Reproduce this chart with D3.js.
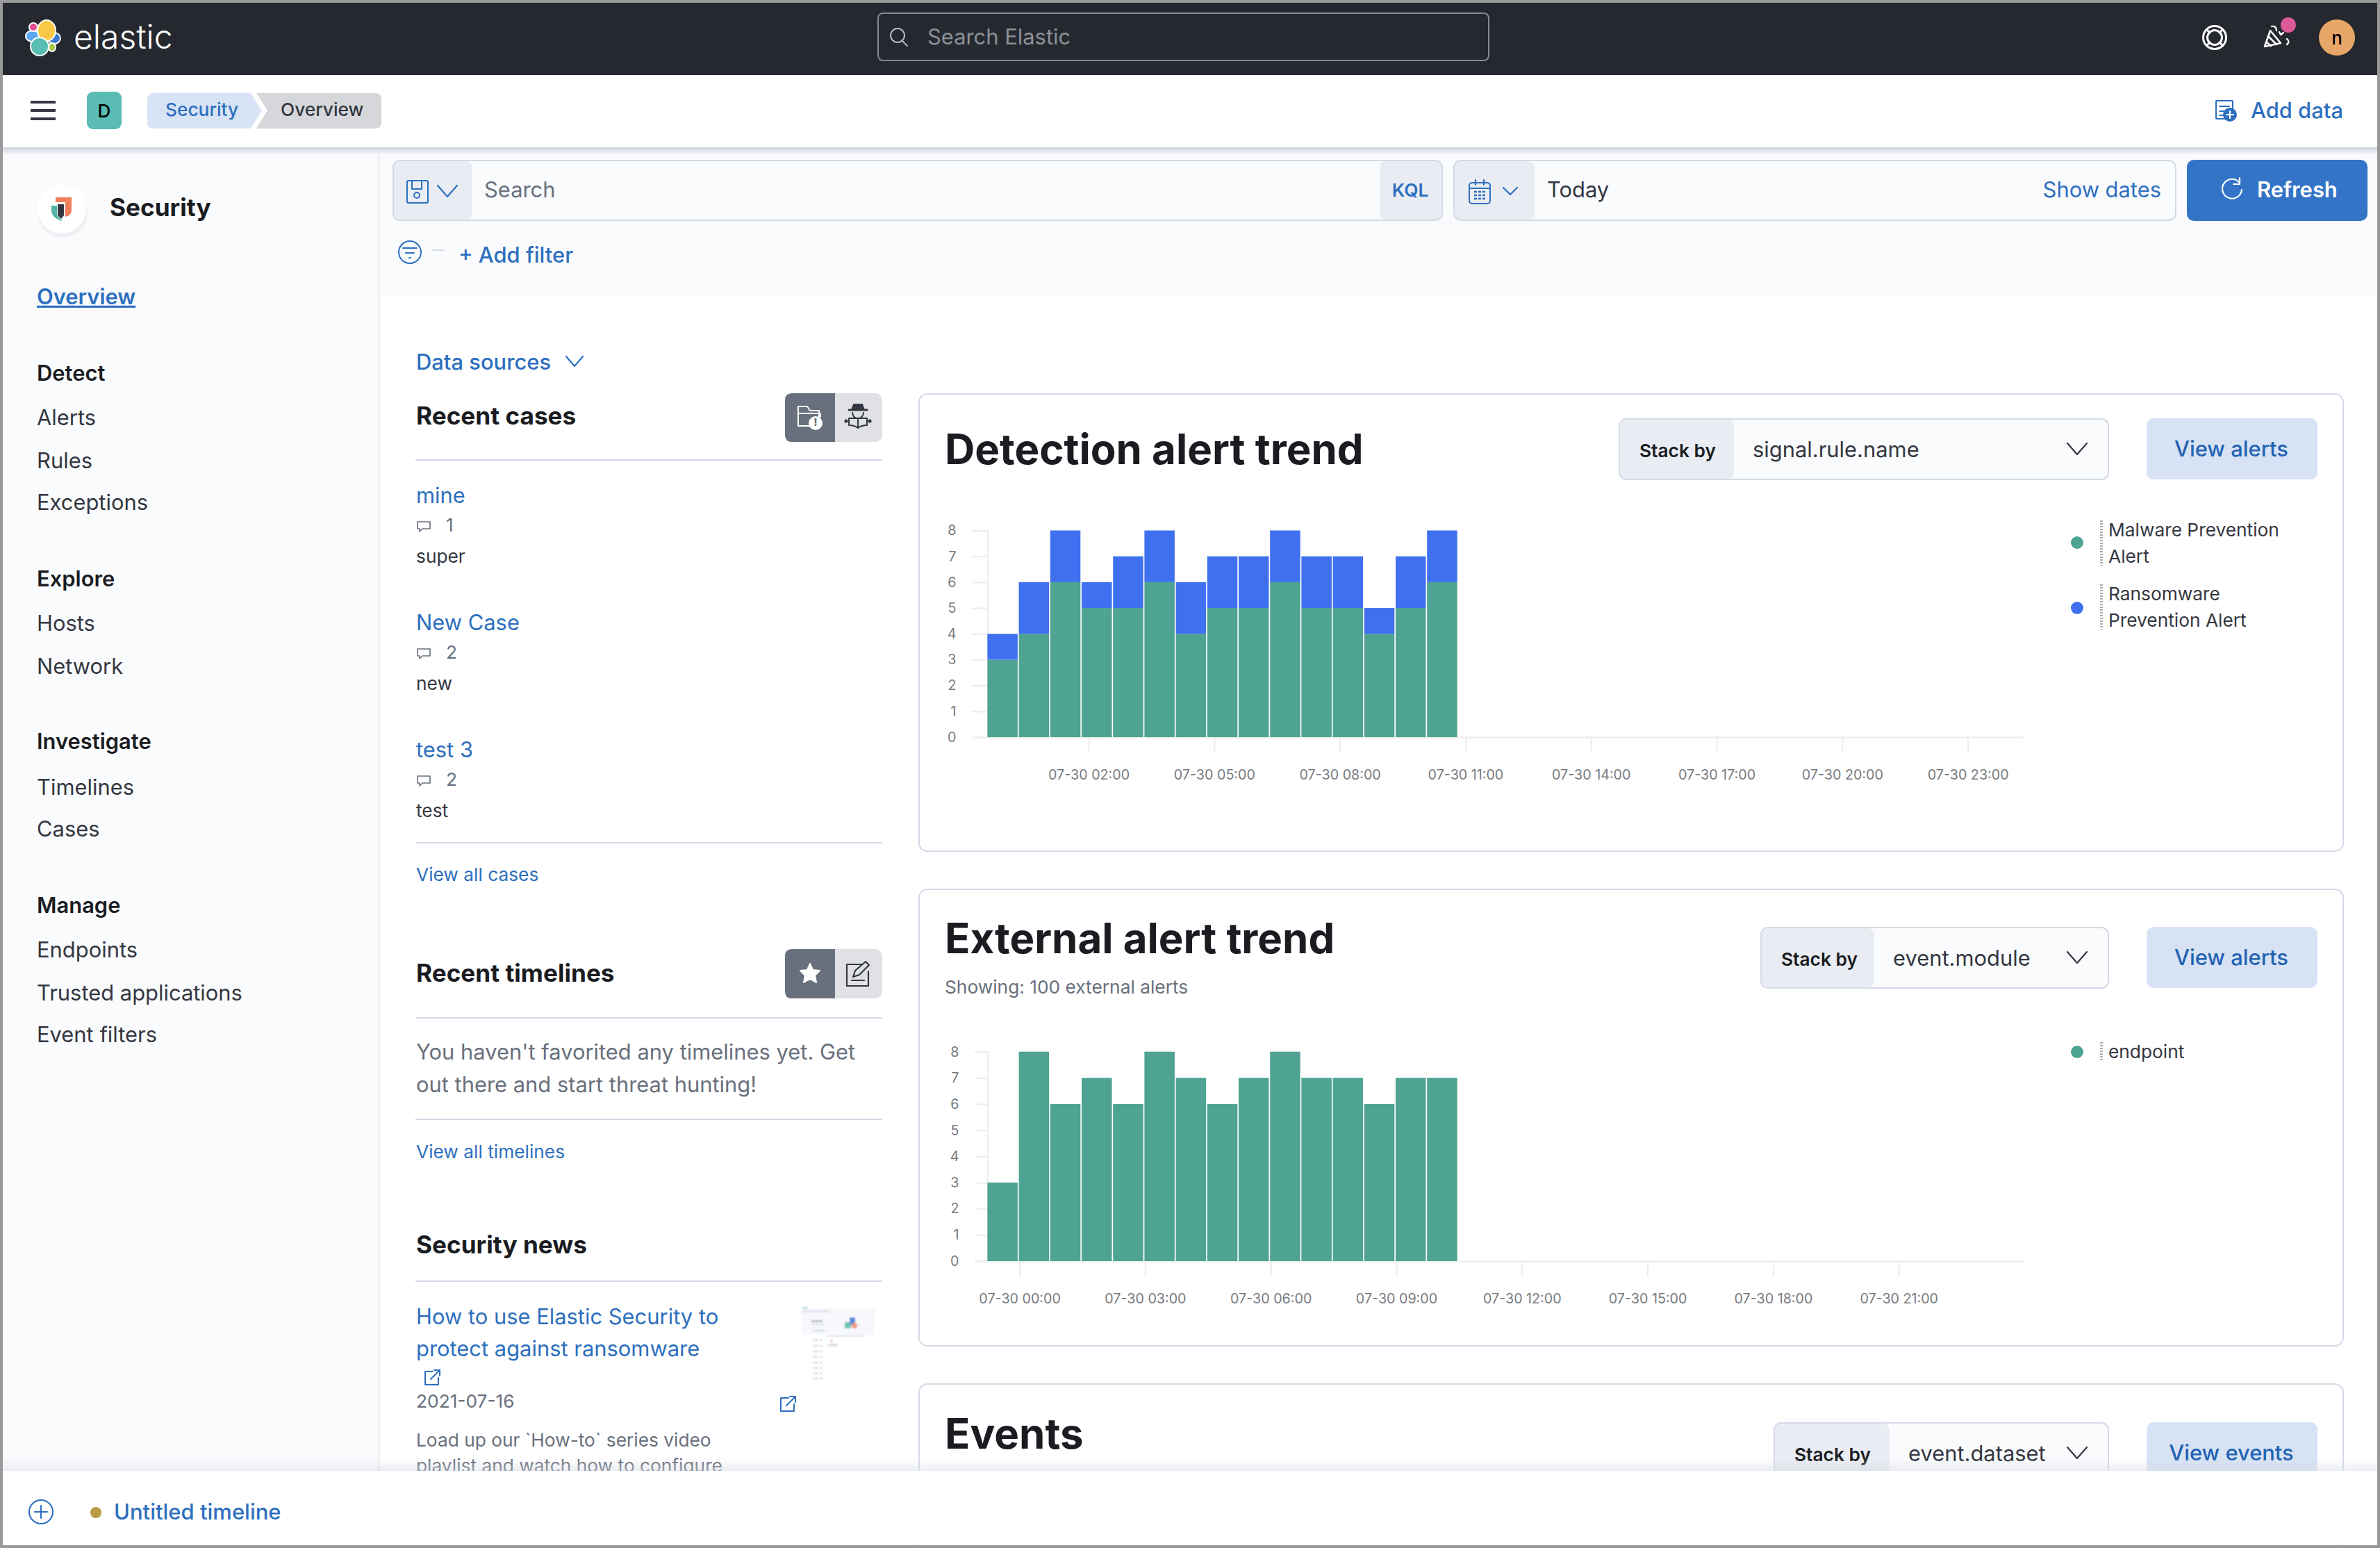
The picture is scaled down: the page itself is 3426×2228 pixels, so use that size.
<!DOCTYPE html>
<html>
<head>
<meta charset="utf-8">
<title>Security overview</title>
<script src="https://cdn.jsdelivr.net/npm/d3@7"></script>
<style>
  html, body { margin: 0; padding: 0; background: #fff; }
  svg { display: block; }
  text { font-family: Inter, "Noto Sans", sans-serif; }
</style>
</head>
<body>
<div id="page"></div>
<script>
// chart data
const detectionBuckets = [
  "2021-07-29T23:35Z", "2021-07-30T00:20Z", "2021-07-30T01:05Z", "2021-07-30T01:50Z", "2021-07-30T02:35Z",
  "2021-07-30T03:20Z", "2021-07-30T04:05Z", "2021-07-30T04:50Z", "2021-07-30T05:35Z", "2021-07-30T06:20Z",
  "2021-07-30T07:05Z", "2021-07-30T07:50Z", "2021-07-30T08:35Z", "2021-07-30T09:20Z", "2021-07-30T10:05Z"];
const malwareCounts = [3, 4, 6, 5, 5, 6, 4, 5, 5, 6, 5, 5, 4, 5, 6];
const ransomwareCounts = [1, 2, 2, 1, 2, 2, 2, 2, 2, 2, 2, 2, 1, 2, 2];
const detectionTicks = [
  "2021-07-30T02:00Z", "2021-07-30T05:00Z", "2021-07-30T08:00Z", "2021-07-30T11:00Z",
  "2021-07-30T14:00Z", "2021-07-30T17:00Z", "2021-07-30T20:00Z", "2021-07-30T23:00Z"];
const detectionDomain = ["2021-07-29T23:35Z", "2021-07-31T00:19Z"];

const externalBuckets = [
  "2021-07-29T23:14Z", "2021-07-29T23:59Z", "2021-07-30T00:44Z", "2021-07-30T01:29Z", "2021-07-30T02:14Z",
  "2021-07-30T02:59Z", "2021-07-30T03:44Z", "2021-07-30T04:29Z", "2021-07-30T05:14Z", "2021-07-30T05:59Z",
  "2021-07-30T06:44Z", "2021-07-30T07:29Z", "2021-07-30T08:14Z", "2021-07-30T08:59Z", "2021-07-30T09:44Z"];
const endpointCounts = [3, 8, 6, 7, 6, 8, 7, 6, 7, 8, 7, 7, 6, 7, 7];
const externalTicks = [
  "2021-07-30T00:00Z", "2021-07-30T03:00Z", "2021-07-30T06:00Z", "2021-07-30T09:00Z",
  "2021-07-30T12:00Z", "2021-07-30T15:00Z", "2021-07-30T18:00Z", "2021-07-30T21:00Z"];
const externalDomain = ["2021-07-29T23:14Z", "2021-07-30T23:58Z"];

const countTicks = [0, 1, 2, 3, 4, 5, 6, 7, 8];
const bucketMinutes = 45;

// colours
const TEAL = "#4ea392", ROYAL = "#3f70ef", LINK = "#2d6fbe", INK = "#1a1c21", BODY = "#343741",
      MUTED = "#69707d", RULE = "#d3dae6", PANEL = "#e9edf3", SOFT = "#fafbfd";
const BASE = 30.9, SMALL = 26.3, HEAD = 35.2, TITLE = 60;

const W = 3426, H = 2228;
const svg = d3.select("#page").append("svg").attr("width", W).attr("height", H).attr("viewBox", `0 0 ${W} ${H}`);

const defs = svg.append("defs");
function fade(id, c1, o1, c2, o2) {
  const g = defs.append("linearGradient").attr("id", id).attr("x1", 0).attr("x2", 0).attr("y1", 0).attr("y2", 1);
  g.append("stop").attr("offset", 0).attr("stop-color", c1).attr("stop-opacity", o1);
  g.append("stop").attr("offset", 1).attr("stop-color", c2).attr("stop-opacity", o2);
}
fade("shadeDown", "#ccd2df", 1, "#f6f7fa", 1);
fade("shadeUp", "#d5d9e2", 0, "#d5d9e2", 0.45);
defs.append("filter").attr("id", "soft").append("feGaussianBlur").attr("stdDeviation", 0.9);

// small drawing helpers
function txt(x, y, s, size, fill, weight = 400, anchor = "start", parent = svg) {
  return parent.append("text").attr("x", x).attr("y", y).attr("dy", "0.35em")
    .attr("font-size", size).attr("font-weight", weight).attr("fill", fill).attr("text-anchor", anchor).text(s);
}
function box(x, y, w, h, fill, r = 0, stroke = null, parent = svg) {
  const b = parent.append("rect").attr("x", x).attr("y", y).attr("width", w).attr("height", h).attr("rx", r).attr("fill", fill);
  if (stroke) b.attr("stroke", stroke).attr("stroke-width", 2);
  return b;
}
function path(d, stroke, sw = 2.2, fill = "none", parent = svg) {
  return parent.append("path").attr("d", d).attr("stroke", stroke).attr("stroke-width", sw).attr("fill", fill)
    .attr("stroke-linecap", "round").attr("stroke-linejoin", "round");
}
function rule(x1, x2, y, c = RULE) {
  svg.append("line").attr("x1", x1).attr("x2", x2).attr("y1", y).attr("y2", y).attr("stroke", c).attr("stroke-width", 2);
}
function chevron(cx, cy, c = BODY, w = 14, h = 8) {
  path(`M${cx - w},${cy - h} L${cx},${cy + h} L${cx + w},${cy - h}`, c, 2.2);
}
function dot(cx, cy, r, fill, parent = svg) {
  return parent.append("circle").attr("cx", cx).attr("cy", cy).attr("r", r).attr("fill", fill);
}
function ring(cx, cy, r, stroke, sw = 2) {
  return svg.append("circle").attr("cx", cx).attr("cy", cy).attr("r", r).attr("fill", "none").attr("stroke", stroke).attr("stroke-width", sw);
}
function externalIcon(cx, cy) {
  path(`M${cx + 1},${cy - 9} H${cx - 10} V${cy + 10} H${cx + 9} V${cy}`, LINK, 2);
  path(`M${cx - 2},${cy + 2} L${cx + 11},${cy - 11} M${cx + 3},${cy - 11} H${cx + 11} V${cy - 3}`, LINK, 2);
}

// page backgrounds
box(0, 0, W, H, "#ffffff");
box(545, 212, W - 545, 212, SOFT);
box(4, 212, 541, 1910, SOFT);
box(544, 212, 3, 1910, "#eff1f5");
box(4, 212, W - 8, 10, "url(#shadeDown)");

// top dark bar
box(4, 4, W - 8, 104, "#25282f");
[["#5aa8ef", 47, 52, 10, 8], ["#df4e95", 48, 39, 6, 6], ["#3b78cf", 78, 55, 9, 8], ["#a5c93e", 75, 68, 5, 6],
 ["#f9c846", 67, 44, 13, 15], ["#59bdb3", 57, 67, 13, 13]].forEach(([c, cx, cy, rx, ry]) => {
  svg.append("ellipse").attr("cx", cx).attr("cy", cy).attr("rx", rx).attr("ry", ry)
    .attr("fill", c).attr("stroke", "#fff").attr("stroke-width", 2);
});
txt(106, 53, "elastic", 48, "#ffffff", 300);
box(1264, 19, 879, 68, "#25282f", 7, "#85888f");
ring(1292, 51, 10, "#b5b8bf");
path("M1299,59 L1306,66", "#b5b8bf", 2);
txt(1335, 53, "Search Elastic", BASE, "#8d9098");

// help, news and avatar
ring(3188, 54, 16.5, "#fff", 3);
ring(3188, 54, 10.5, "#fff", 3);
path("M3176.5,42.5 L3181,47 M3199.5,42.5 L3195,47 M3176.5,65.5 L3181,61 M3199.5,65.5 L3195,61", "#fff", 3);
path("M3260,67 L3268,44 L3283,62 Z M3266,53 L3277,64 M3263,61 L3269,66", "#fff", 2.6);
path("M3270,38 Q3277,37 3277,44 M3281,46 L3283,50 L3287,47 M3292,56 Q3297,60 3292,64", "#fff", 2.4);
dot(3294, 36, 11, "#dd5a98");
dot(3364, 54, 26, "#e8a767");
txt(3364, 55, "n", 26, "#000", 500, "middle");

// breadcrumb row
box(4, 108, W - 8, 104, "#ffffff");
[147, 159, 171].forEach(y => box(44, y - 2, 36, 4, BODY));
box(125, 132, 50, 54, "#5abcb3", 9);
txt(150, 160, "D", 26, "#000", 500, "middle");
path("M212,143 Q212,134 221,134 H361 L377,159 L361,185 H221 Q212,185 212,176 Z", "#d8e4f5", 0, "#d8e4f5");
path("M369,134 H540 Q549,134 549,143 V176 Q549,185 540,185 H369 L385,159 Z", "#d6d7da", 0, "#d6d7da");
txt(238, 158, "Security", SMALL, LINK, 500);
txt(404, 158, "Overview", SMALL, BODY, 500);
box(3190, 145, 24, 26, "none", 1, LINK);
path("M3195,153 H3209 M3195,160 H3203 M3195,166 H3201", LINK, 2);
dot(3210, 165, 10, LINK);
path("M3205,165 H3215 M3210,160 V170", "#fff", 2);
txt(3240, 159, "Add data", BASE, LINK, 500);

// query bar
box(566, 231, 1510, 86, SOFT, 10, RULE);
box(567, 232, 113, 84, PANEL, 9);
box(1986, 232, 89, 84, PANEL, 9);
box(586, 260, 30, 32, "none", 2, LINK);
path("M593,260 V272 H607 V260", LINK, 2);
ring(600, 281, 4, LINK);
chevron(644, 275, LINK);
txt(697, 273, "Search", BASE, MUTED);
txt(2030, 274, "KQL", SMALL, LINK, 600, "middle");
box(2093, 231, 1039, 86, SOFT, 10, RULE);
box(2094, 232, 115, 84, PANEL, 9);
box(2115, 263, 30, 30, "none", 4, LINK);
path("M2115,271 H2145 M2124,259 V266 M2136,259 V266", LINK, 2.2);
[276, 281, 286].forEach(y => path(`M2122,${y} H2138`, LINK, 2.6).attr("stroke-dasharray", "4 2").attr("stroke-linecap", "butt"));
chevron(2174, 275, LINK, 10, 5);
txt(2227, 273, "Today", BASE, BODY);
txt(3111, 273, "Show dates", BASE, LINK, 400, "end");
box(3148, 230, 260, 88, "#3374c6", 10);
path("M3224,263 A14,14 0 1 0 3227,273 M3224,256 V265 H3215", "#fff", 2.2);
txt(3249, 273, "Refresh", BASE, "#fff", 600);
ring(590, 363, 16, LINK);
path("M580,357 H600 M584,364 H596 M589,371 H591", LINK, 2);
rule(622, 640, 360);
txt(660, 367, "+ Add filter", BASE, LINK, 500);

// sidebar
dot(90, 306, 36, "#eef0f4");
dot(89, 301, 35, "#ffffff");
path("M80,284 H103 V303 Q103,310 94,312 V291 H80 Z", "#f0805c", 0, "#f0805c");
path("M74,296 H82 V310 L90,318 Q74,314 74,302 Z", "#53b5a8", 0, "#53b5a8");
path("M83,294 H92 V310 L88,315 L83,310 Z", BODY, 0, BODY);
txt(158, 299, "Security", HEAD, INK, 700);
txt(53, 427, "Overview", BASE, LINK, 600).attr("text-decoration", "underline");
const navHeads = [["Detect", 537], ["Explore", 833], ["Investigate", 1067], ["Manage", 1303]];
const navLinks = [["Alerts", 601], ["Rules", 663], ["Exceptions", 723], ["Hosts", 897], ["Network", 959],
  ["Timelines", 1133], ["Cases", 1193], ["Endpoints", 1367], ["Trusted applications", 1429], ["Event filters", 1489]];
navHeads.forEach(([s, y]) => txt(53, y, s, BASE, INK, 600));
navLinks.forEach(([s, y]) => txt(53, y, s, BASE, BODY));

// left content column
txt(599, 521, "Data sources", BASE, LINK, 500);
chevron(827, 520, LINK, 12, 7);
function toggle(y, h, iconLeft, iconRight) {
  box(1130, y, 140, h, "#e0e1e5", 10);
  path(`M1140,${y} H1202 V${y + h} H1140 Q1130,${y + h} 1130,${y + h - 10} V${y + 10} Q1130,${y} 1140,${y} Z`, "#69707d", 0, "#69707d");
  iconLeft(); iconRight();
}
toggle(566, 70, () => {
  path("M1149,613 V585 H1162 L1166,591 H1179 V600 M1149,613 V595 H1181 V600 M1149,613 H1166", "#fff", 2);
  dot(1174, 609, 10, "#fff");
  txt(1174, 608, "!", 15, "#69707d", 800, "middle");
}, () => {
  path("M1226,590 L1229,582 H1241 L1244,590 Z", BODY, 2, BODY);
  path("M1222,590 H1248", BODY, 3);
  path("M1227,594 Q1228,602 1235,602 Q1242,602 1243,594 M1222,612 V602 H1235 V616 M1248,612 V602 H1235 M1222,612 Q1230,612 1235,616 Q1240,612 1248,612", BODY, 2);
  dot(1218, 606, 2.6, BODY);
  dot(1252, 606, 2.6, BODY);
});
txt(599, 599, "Recent cases", HEAD, INK, 700);
rule(598, 1270, 662);
const caseNames = ["mine", "New Case", "test 3"];
const caseComments = ["1", "2", "2"];
const caseTags = ["super", "new", "test"];
caseNames.forEach((name, i) => {
  const y = 713 + i * 183;
  txt(599, y, name, BASE, LINK);
  path(`M601,${y + 38} H619 V${y + 48} H608 L604,${y + 52} V${y + 48} H601 Z`, MUTED, 1.6);
  txt(642, y + 43, caseComments[i], SMALL, MUTED);
  txt(599, y + 88, caseTags[i], SMALL, BODY);
});
rule(598, 1270, 1213);
txt(599, 1259, "View all cases", SMALL, LINK);

txt(599, 1401, "Recent timelines", HEAD, INK, 700);
toggle(1366, 71, () => {
  path("M1166,1387 L1170,1396 L1180,1397 L1173,1404 L1175,1414 L1166,1409 L1157,1414 L1159,1404 L1152,1397 L1162,1396 Z", "#fff", 2, "#fff");
}, () => {
  path("M1250,1398 V1419 H1219 V1388 H1240", BODY, 2.2);
  path("M1228,1406 L1231,1397 L1246,1384 L1251,1389 L1237,1403 Z M1226,1411 H1244", BODY, 2.2);
});
rule(598, 1270, 1465);
txt(599, 1514, "You haven't favorited any timelines yet. Get", BASE, MUTED);
txt(599, 1561, "out there and start threat hunting!", BASE, MUTED);
rule(598, 1270, 1611);
txt(599, 1658, "View all timelines", SMALL, LINK);

txt(599, 1792, "Security news", HEAD, INK, 700);
rule(598, 1270, 1844);
txt(599, 1895, "How to use Elastic Security to", BASE, LINK);
txt(599, 1941, "protect against ransomware", BASE, LINK);
externalIcon(622, 1983);
txt(599, 2017, "2021-07-16", SMALL, MUTED);
externalIcon(1134, 2021);
txt(599, 2073, "Load up our `How-to` series video", SMALL, MUTED);
txt(599, 2110, "playlist and watch how to configure", SMALL, MUTED);

// thumbnail of the article, blurred like the small image in the screenshot
const thumb = svg.append("g").attr("filter", "url(#soft)");
box(1154, 1883, 105, 38, "#f6f8fb", 0, null, thumb);
box(1155, 1881, 8, 3, "#b9dce0", 0, null, thumb);
box(1155, 1886, 40, 3, "#dfe3ea", 0, null, thumb);
box(1168, 1900, 16, 3, "#b9bdc8", 0, null, thumb);
box(1168, 1905, 20, 2, "#dde0e7", 0, null, thumb);
box(1216, 1903, 9, 9, "#6fc5b2", 0, null, thumb);
box(1223, 1896, 8, 11, "#5a8ad8", 0, null, thumb);
dot(1230, 1908, 4, "#ec9a7f", thumb);
box(1170, 1914, 18, 2, "#cfd8e8", 0, null, thumb);
box(1190, 1922, 55, 2, "#dde3ee", 0, null, thumb);
box(1192, 1934, 14, 4, "#dfe1e6", 0, null, thumb);
dot(1197, 1930, 1.6, "#e79a80", thumb);
[1928, 1936, 1944, 1952, 1960, 1968, 1976, 1983].forEach(y => {
  box(1170, y, 8, 2, "#d5d8e0", 0, null, thumb);
  box(1181, y, 2, 2, "#b5b9c4", 0, null, thumb);
});

// panel frames, header controls
function panelHeader(frameY, frameH, title, titleY, stackX, splitX, field, btnText, btnY) {
  box(1323, frameY, 2050, frameH, "#ffffff", 12, RULE);
  txt(1360, titleY, title, TITLE, INK, 700);
  box(stackX, btnY + 1, 3035 - stackX, 87, SOFT, 10, RULE);
  box(stackX + 1, btnY + 2, splitX - stackX - 1, 85, PANEL, 9);
  txt(stackX + 29, btnY + 47, "Stack by", SMALL, INK, 600);
  txt(splitX + 27, btnY + 45, field, BASE, BODY);
  chevron(2990, btnY + 44, BODY);
  box(3090, btnY, 246, 88, "#d7e3f4", 10);
  txt(3212, btnY + 44, btnText, BASE, "#2262b2", 500, "middle");
}
panelHeader(567, 658, "Detection alert trend", 647, 2331, 2496, "signal.rule.name", "View alerts", 602);
panelHeader(1280, 657, "External alert trend", 1351, 2535, 2698, "event.module", "View alerts", 1334);
txt(1360, 1421, "Showing: 100 external alerts", SMALL, MUTED);
panelHeader(1992, 300, "Events", 2064, 2554, 2720, "event.dataset", "View events", 2047);

// one stacked histogram: axes from scales, bars from the arrays above
function trendChart({ buckets, domain, ticks, series, top, bottom, tickLen }) {
  const x = d3.scaleUtc().domain(domain.map(d => new Date(d))).range([1421.4, 2912]);
  const y = d3.scaleLinear().domain([0, d3.max(countTicks)]).range([bottom, top]);
  const dates = buckets.map(d => new Date(d));
  const rows = dates.map((d, i) => Object.assign({ date: d }, ...series.map(s => ({ [s.name]: s.values[i] }))));
  const stacked = d3.stack().keys(series.map(s => s.name))(rows);

  const gy = svg.append("g").attr("transform", `translate(1421.4,0)`)
    .call(d3.axisLeft(y).tickValues(countTicks).tickSize(tickLen).tickPadding(23).tickFormat(d3.format("d")));
  const gx = svg.append("g").attr("transform", `translate(0,${bottom})`)
    .call(d3.axisBottom(x).tickValues(ticks.map(d => new Date(d))).tickSize(22).tickPadding(25)
      .tickFormat(d3.utcFormat("%m-%d %H:%M")));
  [gy, gx].forEach(g => {
    g.select(".domain").attr("stroke", "#eceef0").attr("stroke-width", 2.4);
    g.selectAll(".tick line").attr("stroke", "#eceef0").attr("stroke-width", 2.2);
    g.selectAll("text").attr("font-family", "Inter").attr("font-size", 19.7).attr("fill", "#777a7e");
  });
  gx.select(".domain").attr("d", `M${1421.4 - tickLen},0.5H2912`);

  svg.append("g").selectAll("g").data(stacked).join("g")
    .attr("fill", (d, i) => series[i].color)
    .selectAll("rect").data(d => d).join("rect")
    .attr("x", d => x(d.data.date))
    .attr("y", d => y(d[1]))
    .attr("width", d => x(d3.utcMinute.offset(d.data.date, bucketMinutes)) - x(d.data.date) - 1.7)
    .attr("height", d => y(d[0]) - y(d[1]));
}

trendChart({
  buckets: detectionBuckets, domain: detectionDomain, ticks: detectionTicks,
  series: [{ name: "malware", values: malwareCounts, color: TEAL }, { name: "ransomware", values: ransomwareCounts, color: ROYAL }],
  top: 763.5, bottom: 1061, tickLen: 22
});
trendChart({
  buckets: externalBuckets, domain: externalDomain, ticks: externalTicks,
  series: [{ name: "endpoint", values: endpointCounts, color: TEAL }],
  top: 1513.7, bottom: 1815, tickLen: 18
});

// legends
function legendItem(color, dotY, lines, lineY) {
  dot(2990, dotY, 9, color);
  svg.append("line").attr("x1", 3025).attr("x2", 3025).attr("y1", lineY - 14).attr("y2", lineY - 14 + lines.length * 38 - 11)
    .attr("stroke", "#a9adb5").attr("stroke-width", 4).attr("stroke-dasharray", "2 2");
  lines.forEach((s, i) => txt(3035, lineY + i * 38, s, SMALL, BODY));
}
legendItem(TEAL, 781, ["Malware Prevention", "Alert"], 763);
legendItem(ROYAL, 875, ["Ransomware", "Prevention Alert"], 855);
legendItem(TEAL, 1514, ["endpoint"], 1514);

// bottom timeline bar covers anything below it
box(4, 2099, W - 8, 18, "url(#shadeUp)");
box(4, 2117, W - 8, 106, "#ffffff");
ring(59, 2176, 17, LINK);
path("M50,2176 H68 M59,2167 V2185", LINK, 2);
dot(138, 2177, 8, "#b89b45");
txt(164, 2176, "Untitled timeline", 31, LINK, 500);

// screenshot frame
svg.append("rect").attr("x", 2).attr("y", 2).attr("width", W - 4).attr("height", H - 4)
  .attr("fill", "none").attr("stroke", "#999999").attr("stroke-width", 4);
</script>
</body>
</html>
